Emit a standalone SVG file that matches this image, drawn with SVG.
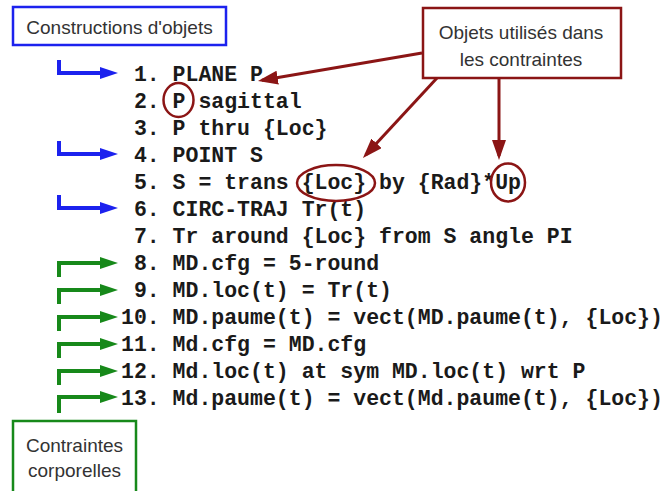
<svg xmlns="http://www.w3.org/2000/svg" width="662" height="491" viewBox="0 0 662 491">
<style>
.code{font-family:"Liberation Mono","Courier New",monospace;font-weight:bold;font-size:21.5px;fill:#1a1a1a;white-space:pre}
.lbl{font-family:"Liberation Sans",Arial,sans-serif;font-size:19px;fill:#333;text-anchor:middle}
.blue{fill:none;stroke:#1c22ee;stroke-width:4}
.green{fill:none;stroke:#17891a;stroke-width:4}
.red{fill:none;stroke:#8b1515;stroke-width:3}
.redc{fill:none;stroke:#8b1515;stroke-width:2.5}
</style>
<defs>
<marker id="ab" viewBox="0 0 18 12" refX="2" refY="6" markerWidth="18" markerHeight="12" markerUnits="userSpaceOnUse" orient="auto"><path d="M0,0 L18,6 L0,12 z" fill="#1c22ee"/></marker>
<marker id="ag" viewBox="0 0 18 12" refX="2" refY="6" markerWidth="18" markerHeight="12" markerUnits="userSpaceOnUse" orient="auto"><path d="M0,0 L18,6 L0,12 z" fill="#17891a"/></marker>
<marker id="ar" viewBox="0 0 20 14" refX="16" refY="7" markerWidth="20" markerHeight="14" markerUnits="userSpaceOnUse" orient="auto"><path d="M0,0 L20,7 L0,14 z" fill="#8b1515"/></marker>
</defs>
<rect width="662" height="491" fill="#fff"/>

<g id="code">
<text class="code" x="121" y="81" xml:space="preserve"> 1. PLANE P</text>
<text class="code" x="121" y="108" xml:space="preserve"> 2. P sagittal</text>
<text class="code" x="121" y="135" xml:space="preserve"> 3. P thru {Loc}</text>
<text class="code" x="121" y="162" xml:space="preserve"> 4. POINT S</text>
<text class="code" x="121" y="189" xml:space="preserve"> 5. S = trans {Loc} by {Rad}*Up</text>
<text class="code" x="121" y="216" xml:space="preserve"> 6. CIRC-TRAJ Tr(t)</text>
<text class="code" x="121" y="243" xml:space="preserve"> 7. Tr around {Loc} from S angle PI</text>
<text class="code" x="121" y="270" xml:space="preserve"> 8. MD.cfg = 5-round</text>
<text class="code" x="121" y="297" xml:space="preserve"> 9. MD.loc(t) = Tr(t)</text>
<text class="code" x="121" y="324" xml:space="preserve">10. MD.paume(t) = vect(MD.paume(t), {Loc})</text>
<text class="code" x="121" y="351" xml:space="preserve">11. Md.cfg = MD.cfg</text>
<text class="code" x="121" y="378" xml:space="preserve">12. Md.loc(t) at sym MD.loc(t) wrt P</text>
<text class="code" x="121" y="405" xml:space="preserve">13. Md.paume(t) = vect(Md.paume(t), {Loc})</text>
</g>

<g id="box-constructions">
<rect x="13" y="7" width="213" height="38" fill="#fff" stroke="#1c22ee" stroke-width="2.5"/>
<text class="lbl" x="119.5" y="34">Constructions d'objets</text>
</g>

<g id="box-objets">
<rect x="423" y="8" width="198" height="70" fill="#fff" stroke="#8b1515" stroke-width="2.5"/>
<text class="lbl" x="521" y="39">Objets utilisés dans</text>
<text class="lbl" x="521" y="66">les contraintes</text>
</g>

<g id="box-contraintes">
<rect x="13" y="421" width="123" height="80" fill="#fff" stroke="#17891a" stroke-width="2.5"/>
<text class="lbl" x="74.5" y="452">Contraintes</text>
<text class="lbl" x="74.5" y="477">corporelles</text>
</g>

<g id="highlights">
<ellipse class="redc" cx="178.5" cy="100" rx="15" ry="17"/>
<ellipse class="redc" cx="336" cy="183" rx="39" ry="18"/>
<ellipse class="redc" cx="508" cy="182.5" rx="17" ry="19"/>
</g>

<g id="connectors">
<path class="blue" d="M59,60 V73 H102" marker-end="url(#ab)"/>
<path class="blue" d="M59,141 V154 H102" marker-end="url(#ab)"/>
<path class="blue" d="M59,195 V208 H102" marker-end="url(#ab)"/>
<path class="green" d="M59,277 V263 H102" marker-end="url(#ag)"/>
<path class="green" d="M59,304 V290 H102" marker-end="url(#ag)"/>
<path class="green" d="M59,331 V317 H102" marker-end="url(#ag)"/>
<path class="green" d="M59,358 V344 H102" marker-end="url(#ag)"/>
<path class="green" d="M59,385 V371 H102" marker-end="url(#ag)"/>
<path class="green" d="M59,413 V397 H102" marker-end="url(#ag)"/>
<path class="red" d="M422,53 L261.9,80.3" marker-end="url(#ar)"/>
<path class="red" d="M437,78 L365.7,155.1" marker-end="url(#ar)"/>
<path class="red" d="M499,78 L499,156" marker-end="url(#ar)"/>
</g>
</svg>
